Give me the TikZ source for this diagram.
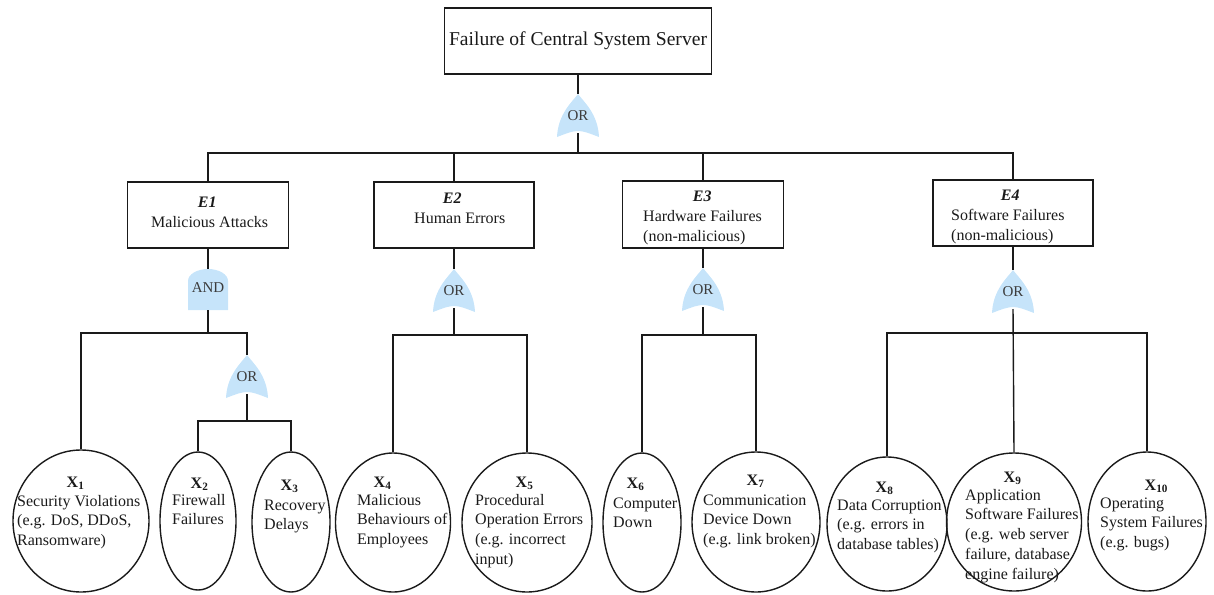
\documentclass[tikz,border=0pt]{standalone}
\usepackage{fontspec}
\setmainfont{Liberation Serif}
\usetikzlibrary{shapes.geometric}
\definecolor{gatefill}{RGB}{198,228,250}
\definecolor{ink}{RGB}{26,26,26}
\newcommand\fnbody{\fontsize{16pt}{19.8pt}\selectfont}
\newcommand\fntitle{\fontsize{19.6pt}{23pt}\selectfont}
\newcommand\fngate{\fontsize{15pt}{18pt}\selectfont}

\tikzset{
  conn/.style={draw=ink, line width=1.4pt},
  evbox/.style={draw=ink, line width=1.4pt, rectangle, inner sep=0pt,
    minimum width=161pt, minimum height=66pt},
  evtext/.style={anchor=north west, align=left, inner sep=0pt, font=\fnbody, text=ink},
  basic/.style={draw=ink, line width=1.4pt, ellipse, inner sep=0pt},
  body/.style={anchor=north west, align=left, inner sep=0pt, font=\fnbody, text=ink},
  xlab/.style={anchor=base west, inner sep=0pt, font=\fnbody\bfseries, text=ink},
  gatetext/.style={inner sep=0pt, font=\fngate, text=ink!85},
  % OR gate: pointed arch with a concave base, placed by its top point
  orgate/.pic={
    \fill[gatefill] (0,0) .. controls (6,8) and (20,20) .. (21,43)
      .. controls (0,35) .. (-21,43)
      .. controls (-20,20) and (-6,8) .. (0,0) -- cycle;
    \node[gatetext] (-t) at (0,22) {OR};
    \coordinate (-top) at (0,0);
    \coordinate (-bot) at (0,39);
  },
  % AND gate: flat base with a rounded dome, placed by its top point
  andgate/.pic={
    \fill[gatefill] (-20,41) -- (-20,12)
      .. controls (-20,5.37) and (-11.05,0) .. (0,0)
      .. controls (11.05,0) and (20,5.37) .. (20,12) -- (20,41) -- cycle;
    \node[gatetext] (-t) at (0,19) {AND};
    \coordinate (-top) at (0,0);
    \coordinate (-bot) at (0,41);
  },
}

\begin{document}
\begin{tikzpicture}[x=1pt, y=-1pt]
\useasboundingbox (0,0) rectangle (1214,594);

% top event
\node[draw=ink, line width=1.4pt, rectangle, inner sep=0pt,
  minimum width=267pt, minimum height=66pt, font=\fntitle, text=ink]
  (top) at (578,41) {Failure of Central System Server};

% intermediate events
\node[evbox] (E1) at (208,215) {};
\node[evbox, minimum width=160pt] (E2) at (454,215) {};
\node[evbox, minimum height=67pt] (E3) at (703,214.5) {};
\node[evbox, minimum width=160pt] (E4) at (1013,213) {};

\node[evtext] (E1t) at (151,193.5) {\strut\hspace*{46.7pt}\textbf{\textit{E1}}\\Malicious Attacks};
\node[evtext] (E2t) at (414,189.5) {\strut\hspace*{28.7pt}\textbf{\textit{E2}}\\Human Errors};
\node[evtext] (E3t) at (643,187.5) {\strut\hspace*{49.7pt}\textbf{\textit{E3}}\\Hardware Failures\\(non-malicious)};
\node[evtext] (E4t) at (951,186.5) {\strut\hspace*{49.7pt}\textbf{\textit{E4}}\\Software Failures\\(non-malicious)};

% basic events
\node[basic, minimum width=136pt, minimum height=142pt] (X1) at (81,521) {};
\node[basic, minimum width=76pt, minimum height=138pt] (X2) at (198,521) {};
\node[basic, minimum width=78pt, minimum height=140pt] (X3) at (291,522) {};
\node[basic, minimum width=115pt, minimum height=139pt] (X4) at (393,522.5) {};
\node[basic, minimum width=130pt, minimum height=139pt] (X5) at (527,522.5) {};
\node[basic, minimum width=78pt, minimum height=139pt] (X6) at (642,522.5) {};
\node[basic, minimum width=128pt, minimum height=140pt] (X7) at (756,522) {};
\node[basic, minimum width=120pt, minimum height=134pt] (X8) at (887,524) {};
\node[basic, minimum width=135pt, minimum height=138pt] (X9) at (1014,522) {};
\node[basic, minimum width=118pt, minimum height=139pt] (X10) at (1147,521.5) {};

% gates
\pic (g0) at (578,94) {orgate};
\pic (a1) at (208,269) {andgate};
\pic (g1) at (247,355) {orgate};
\pic (g2) at (454,269) {orgate};
\pic (g3) at (703,268) {orgate};
\pic (g4) at (1013,270) {orgate};

% bus junctions
\coordinate (b0) at (578,153);
\coordinate (b1) at (208,333);
\coordinate (b2) at (247,421);
\coordinate (b3) at (454,335);
\coordinate (b4) at (703,335);
\coordinate (b5) at (1013,333);

% connectors
\draw[conn] (top.south) -- (g0-top);
\draw[conn] (g0-bot) -- (b0);
\draw[conn] (E1.north) |- (b0) -| (E4.north);
\draw[conn] (E2.north) -- (E2.north |- b0);
\draw[conn] (E3.north) -- (E3.north |- b0);

\draw[conn] (E1.south) -- (a1-top);
\draw[conn] (a1-bot) -- (b1);
\draw[conn] (X1.north) |- (b1) -| (g1-top);
\draw[conn] (g1-bot) -- (b2);
\draw[conn] (X2.north) |- (b2) -| (X3.north);

\draw[conn] (E2.south) -- (g2-top);
\draw[conn] (g2-bot) -- (b3);
\draw[conn] (X4.north) |- (b3) -| (X5.north);

\draw[conn] (E3.south) -- (g3-top);
\draw[conn] (g3-bot) -- (b4);
\draw[conn] (X6.north) |- (b4) -| (X7.north);

\draw[conn] (E4.south) -- (g4-top);
\draw[conn] (g4-bot) -- (X9.north);
\draw[conn] (X8.north) |- (b5) -| (X10.north);

% basic event labels
\node[xlab] (L1) at (66.5,487.3) {X\textsubscript{1}};
\node[xlab] (L2) at (190.5,488.3) {X\textsubscript{2}};
\node[xlab] (L3) at (280.5,490.3) {X\textsubscript{3}};
\node[xlab] (L4) at (373.5,487.3) {X\textsubscript{4}};
\node[xlab] (L5) at (515.5,487.3) {X\textsubscript{5}};
\node[xlab] (L6) at (626.5,488.3) {X\textsubscript{6}};
\node[xlab] (L7) at (746.5,485.3) {X\textsubscript{7}};
\node[xlab] (L8) at (875.5,492.3) {X\textsubscript{8}};
\node[xlab] (L9) at (1003.5,482.3) {X\textsubscript{9}};
\node[xlab] (L10) at (1144.5,490.3) {X\textsubscript{10}};

\node[body] (T1) at (17,492) {\strut Security Violations\\(e.g. DoS, DDoS,\\Ransomware)};
\node[body] (T2) at (172,491) {\strut Firewall\\Failures};
\node[body] (T3) at (264,496) {\strut Recovery\\Delays};
\node[body] (T4) at (357,491) {\strut Malicious\\Behaviours of\\Employees};
\node[body] (T5) at (475,491) {\strut Procedural\\Operation Errors\\(e.g. incorrect\\input)};
\node[body] (T6) at (613,494) {\strut Computer\\Down};
\node[body] (T7) at (703,491) {\strut Communication\\Device Down\\(e.g. link broken)};
\node[body] (T8) at (837,496) {\strut Data Corruption\\(e.g. errors in\\database tables)};
\node[body] (T9) at (965,486) {\strut Application\\Software Failures\\(e.g. web server\\failure, database\\engine failure)};
\node[body] (T10) at (1100,494) {\strut Operating\\System Failures\\(e.g. bugs)};
\end{tikzpicture}
\end{document}
